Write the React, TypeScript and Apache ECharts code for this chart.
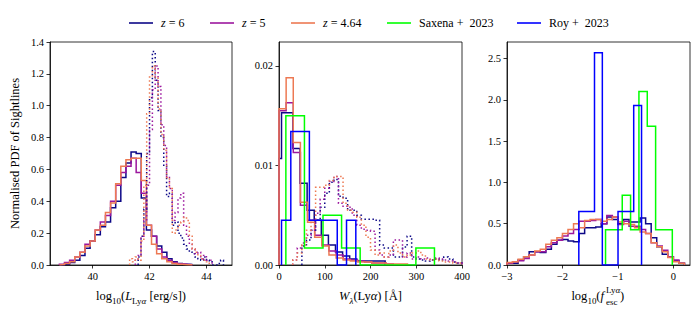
import React, { useEffect, useRef } from "react";
import * as echarts from "echarts";

const SERIF = "'Liberation Serif', 'DejaVu Serif', serif";
const COLOR_Z6 = "#0d0887";
const COLOR_Z5 = "#9c179e";
const COLOR_Z464 = "#ed7953";
const COLOR_SAX = "#00ff00";
const COLOR_ROY = "#0000ff";

const LEGEND_NAMES = ["z = 6", "z = 5", "z = 4.64", "Saxena +  2023", "Roy +  2023"];

// ---------- Panel 1: log10 L_Lya ----------
const LUM_BIN_START = 38.83;
const LUM_BIN_WIDTH = 0.18;
const LUM_Z6 = [0.0, 0.005, 0.015, 0.03, 0.06, 0.105, 0.15, 0.19, 0.24, 0.27, 0.36, 0.4, 0.55, 0.64, 0.71, 0.7, 0.42, 0.22, 0.18, 0.12, 0.08, 0.04, 0.02, 0.01, 0.005, 0.003];
const LUM_Z5 = [0.005, 0.015, 0.03, 0.05, 0.08, 0.13, 0.15, 0.22, 0.27, 0.31, 0.4, 0.5, 0.58, 0.62, 0.67, 0.58, 0.45, 0.25, 0.18, 0.1, 0.05, 0.03, 0.015, 0.008, 0.004, 0.002];
const LUM_Z464 = [0.003, 0.01, 0.02, 0.05, 0.08, 0.12, 0.15, 0.22, 0.25, 0.33, 0.39, 0.51, 0.62, 0.66, 0.67, 0.67, 0.53, 0.25, 0.13, 0.07, 0.04, 0.02, 0.01, 0.005, 0.002, 0.001];

const LUMOBS_BIN_WIDTH = 0.1;
const LUMOBS_Z6_START = 41.6;
const LUMOBS_Z6 = [0.05, 0.18, 0.35, 0.7, 1.05, 1.34, 1.16, 0.97, 0.8, 0.62, 0.43, 0.45, 0.25, 0.27, 0.2, 0.17, 0.13, 0.1, 0.08, 0.07, 0.05, 0.04, 0.03, 0.05, 0.03, 0.02, 0.0, 0.0, 0.01, 0.03];
const LUMOBS_Z5_START = 41.5;
const LUMOBS_Z5 = [0.03, 0.06, 0.18, 0.28, 0.5, 0.85, 1.1, 1.25, 1.12, 0.88, 0.75, 0.55, 0.48, 0.28, 0.33, 0.42, 0.45, 0.25, 0.18, 0.13, 0.1, 0.07, 0.08, 0.04, 0.06, 0.03, 0.03];
const LUMOBS_Z464_START = 41.3;
const LUMOBS_Z464 = [0.04, 0.02, 0.05, 0.03, 0.15, 0.5, 0.95, 1.18, 1.25, 1.18, 0.98, 0.82, 0.72, 0.55, 0.48, 0.2, 0.22, 0.25, 0.27, 0.3, 0.28, 0.18, 0.1, 0.08, 0.06, 0.04, 0.03, 0.02];

// ---------- Panel 2: W_lambda(Lya) ----------
const EW_BIN_WIDTH = 15.6;
const EW_Z5 = [0.0155, 0.0163, 0.0113, 0.006, 0.0045, 0.003, 0.002, 0.0014, 0.001, 0.0006, 0.0005, 0.0004, 0.0003, 0.0002, 0.0002, 0.0001];
const EW_Z464 = [0.0157, 0.0188, 0.0123, 0.0063, 0.0043, 0.0028, 0.0019, 0.001, 0.0007, 0.0005, 0.0004, 0.0003, 0.0003, 0.0002, 0.0002, 0.0001, 0.0001, 0.0001];
const EW_Z6_EDGES = [0, 5.5, 30.5, 46, 61.5, 77, 92.5, 108, 123.5, 139, 154.5, 170, 185.5, 201, 216.5, 232];
const EW_Z6 = [0.0107, 0.0153, 0.0117, 0.0082, 0.0055, 0.0045, 0.003, 0.002, 0.0013, 0.0009, 0.0006, 0.0004, 0.0004, 0.0004, 0.0004];

const EWOBS_BIN_WIDTH = 10;
const EWOBS_Z6_START = 50;
const EWOBS_Z6 = [0.0019, 0.0025, 0.0035, 0.0045, 0.0058, 0.0072, 0.0083, 0.0086, 0.0069, 0.0067, 0.0055, 0.0055, 0.005, 0.0046, 0.0046, 0.0046, 0.0045, 0.002, 0.0017, 0.0017, 0.0008, 0.0008, 0.0018, 0.0029, 0.0008, 0.0006, 0.0005, 0.0004, 0.0005, 0.0006, 0.0005, 0.0008, 0.0006, 0.0003, 0.0002];
const EWOBS_Z5_START = 30;
const EWOBS_Z5 = [0.0005, 0.0017, 0.0022, 0.003, 0.0035, 0.0052, 0.0066, 0.0077, 0.0084, 0.0089, 0.0062, 0.0059, 0.0058, 0.005, 0.004, 0.0036, 0.0035, 0.0034, 0.0015, 0.001, 0.0008, 0.001, 0.0025, 0.0025, 0.0008, 0.0012, 0.0006, 0.0008, 0.0006, 0.0007, 0.0005, 0.0007, 0.0006, 0.0005, 0.0004, 0.0003, 0.0002];
const EWOBS_Z464_START = 30;
const EWOBS_Z464 = [0.0005, 0.0012, 0.002, 0.0035, 0.0045, 0.0078, 0.0078, 0.008, 0.0085, 0.0089, 0.0089, 0.0062, 0.0055, 0.0053, 0.0048, 0.004, 0.0028, 0.0015, 0.001, 0.0012, 0.0008, 0.0014, 0.002, 0.0012, 0.0008, 0.001, 0.0012, 0.0014, 0.001, 0.0006, 0.0005, 0.0006, 0.0004, 0.0003, 0.0003, 0.0002, 0.0002];

const EW_SAX_START = 15;
const EW_SAX_WIDTH = 40.6;
const EW_SAX = [0.015, 0.0017, 0.005, 0.0017, 0, 0, 0, 0.0017];
const EW_ROY_START = 5.5;
const EW_ROY_WIDTH = 20.3;
const EW_ROY = [0.0045, 0.0134, 0.0134, 0.0045, 0.0045, 0.0045, 0, 0.0045];

// ---------- Panel 3: log10 f_esc ----------
const FESC_BIN_START = -3.0;
const FESC_BIN_WIDTH = 0.1;
const FESC_Z6 = [0.02, 0.02, 0.06, 0.1, 0.16, 0.16, 0.15, 0.19, 0.25, 0.3, 0.31, 0.29, 0.28, 0.38, 0.45, 0.45, 0.46, 0.5, 0.58, 0.55, 0.5, 0.55, 0.52, 0.52, 0.57, 0.5, 0.33, 0.22, 0.13, 0.1, 0.05, 0.02];
const FESC_Z5 = [0.02, 0.04, 0.05, 0.08, 0.12, 0.16, 0.16, 0.22, 0.27, 0.3, 0.35, 0.38, 0.43, 0.53, 0.53, 0.54, 0.55, 0.5, 0.6, 0.58, 0.49, 0.53, 0.47, 0.47, 0.43, 0.38, 0.27, 0.23, 0.18, 0.1, 0.06, 0.02];
const FESC_Z464 = [0.03, 0.04, 0.07, 0.1, 0.12, 0.17, 0.19, 0.25, 0.3, 0.33, 0.38, 0.43, 0.5, 0.45, 0.54, 0.55, 0.55, 0.53, 0.55, 0.58, 0.52, 0.5, 0.49, 0.45, 0.4, 0.38, 0.27, 0.22, 0.16, 0.09, 0.04, 0.02];
const FESC_SAX_START = -1.223;
const FESC_SAX_WIDTH = 0.1505;
const FESC_SAX = [0.427, 0.427, 0.845, 0.427, 2.1, 1.68, 0.427, 0.427];
const FESC_ROY_START = -1.705;
const FESC_ROY_WIDTH = 0.1414;
const FESC_ROY = [0.648, 0.648, 2.57, 0, 0, 0.648, 0.648, 1.93];

// ---------- Axis ticks ----------
const LUM_XTICKS = [40, 42, 44];
const LUM_YTICKS = [0, 0.2, 0.4, 0.6, 0.8, 1.0, 1.2, 1.4];
const EW_XTICKS = [0, 100, 200, 300, 400];
const EW_YTICKS = [0, 0.01, 0.02];
const FESC_XTICKS = [-3, -2, -1, 0];
const FESC_YTICKS = [0, 0.5, 1.0, 1.5, 2.0, 2.5];

function regularEdges(start: number, width: number, n: number): number[] {
  const e: number[] = [];
  for (let i = 0; i <= n; i++) e.push(+(start + i * width).toFixed(5));
  return e;
}

function outline(edges: number[], vals: number[]): number[][] {
  const pts: number[][] = [[edges[0], 0]];
  vals.forEach((v, i) => {
    pts.push([edges[i], v]);
    pts.push([edges[i + 1], v]);
  });
  pts.push([edges[vals.length], 0]);
  return pts;
}

function hist(start: number, width: number, vals: number[]) {
  return outline(regularEdges(start, width, vals.length), vals);
}

function series(name: string, color: string, data: number[][], idx: number, dotted = false, width = 1.5) {
  return {
    type: "line",
    name,
    xAxisIndex: idx,
    yAxisIndex: idx,
    data,
    symbol: "none",
    showSymbol: false,
    silent: true,
    clip: true,
    lineStyle: { color, width, type: dotted ? [1.5, 2.5] : "solid", join: "miter", cap: "butt" },
    itemStyle: { color },
  };
}

const RICH = {
  r: { fontFamily: SERIF, fontSize: 12.5, color: "#000", lineHeight: 18, verticalAlign: "middle" },
  i: { fontFamily: SERIF, fontStyle: "italic", fontSize: 12.5, color: "#000", lineHeight: 18, verticalAlign: "middle" },
  s: { fontFamily: SERIF, fontSize: 9, color: "#000", lineHeight: 9, verticalAlign: "bottom" },
  si: { fontFamily: SERIF, fontStyle: "italic", fontSize: 9, color: "#000", lineHeight: 9, verticalAlign: "bottom" },
};

const fmtMinus = (v: number) => (v < 0 ? "\u2212" + Math.abs(v) : String(v));

function xAxis(idx: number, min: number, max: number, ticks: number[], fmt: (v: number) => string, name?: string) {
  return {
    type: "value",
    gridIndex: idx,
    min,
    max,
    name: name || "",
    nameLocation: "middle",
    nameGap: 22,
    nameTextStyle: { rich: RICH, fontFamily: SERIF, fontSize: 12.5, color: "#000" },
    axisLine: { show: true, onZero: false, lineStyle: { color: "#000", width: 0.8 } },
    axisTick: { show: true, length: 3.5, customValues: ticks, lineStyle: { color: "#000", width: 0.8 } },
    axisLabel: { customValues: ticks, formatter: fmt, color: "#000", fontFamily: SERIF, fontSize: 10.5, margin: 6 },
    splitLine: { show: false },
  };
}

function yAxis(idx: number, min: number, max: number, ticks: number[], fmt: (v: number) => string, name?: string) {
  return {
    type: "value",
    gridIndex: idx,
    min,
    max,
    name: name || "",
    nameLocation: "middle",
    nameGap: 29,
    nameTextStyle: { fontFamily: SERIF, fontSize: 12.5, color: "#000" },
    axisLine: { show: true, onZero: false, lineStyle: { color: "#000", width: 0.8 } },
    axisTick: { show: true, length: 3.5, customValues: ticks, lineStyle: { color: "#000", width: 0.8 } },
    axisLabel: { customValues: ticks, formatter: fmt, color: "#000", fontFamily: SERIF, fontSize: 10.5, margin: 6 },
    splitLine: { show: false },
  };
}

function legendAt(name: string, left: number) {
  return {
    show: true,
    data: [name],
    left,
    top: 17,
    padding: 0,
    icon: "rect",
    itemWidth: 24,
    itemHeight: 1.6,
    selectedMode: false,
    formatter: (n: string) => (n.startsWith("z") ? "{i|z}" + n.slice(1) : n),
    textStyle: {
      fontFamily: SERIF,
      fontSize: 12,
      color: "#000",
      padding: [0, 0, 0, 3],
      rich: { i: { fontFamily: SERIF, fontStyle: "italic", fontSize: 12, color: "#000" } },
    },
  };
}

export default function App() {
  const ref = useRef<HTMLDivElement>(null);
  useEffect(() => {
    if (!ref.current) return;
    const chart = echarts.init(ref.current, null, { renderer: "svg" });
    const grids = [
      { left: 50, top: 42, width: 182, height: 223 },
      { left: 279, top: 42, width: 183, height: 223 },
      { left: 507, top: 42, width: 183, height: 223 },
    ].map((g) => ({ ...g, show: true, borderColor: "#000", borderWidth: 0.8, backgroundColor: "transparent" }));

    const option = {
      animation: false,
      backgroundColor: "#fff",
      grid: grids,
      legend: [
        legendAt(LEGEND_NAMES[0], 129),
        legendAt(LEGEND_NAMES[1], 210),
        legendAt(LEGEND_NAMES[2], 291),
        legendAt(LEGEND_NAMES[3], 387),
        legendAt(LEGEND_NAMES[4], 517),
      ],
      xAxis: [
        xAxis(0, 38.5, 44.9, LUM_XTICKS, (v) => String(v), "{r|log}{s|10}{r|(}{i|L}{s|Ly}{si|α}{r| [erg/s])}"),
        xAxis(1, 0, 400, EW_XTICKS, (v) => String(v), "{i|W}{si|λ}{r|(Ly}{i|α}{r|) [Å]}"),
        xAxis(2, -3, 0.3, FESC_XTICKS, fmtMinus),
      ],
      yAxis: [
        yAxis(0, 0, 1.4, LUM_YTICKS, (v) => v.toFixed(1), "Normalised PDF of Sightlines"),
        yAxis(1, 0, 0.0224, EW_YTICKS, (v) => v.toFixed(2)),
        yAxis(2, 0, 2.7, FESC_YTICKS, (v) => v.toFixed(1)),
      ],
      graphic: [
        {
          type: "text",
          x: 604,
          y: 296,
          style: { text: "{r|log}{s|10}{r|(}{i|f}", rich: RICH, align: "right", verticalAlign: "middle" },
        },
        {
          type: "text",
          x: 606,
          y: 290,
          style: { text: "Ly{ai|α}", fontFamily: SERIF, fontSize: 9, fill: "#000", align: "left", verticalAlign: "middle", rich: { ai: { fontFamily: SERIF, fontSize: 9, fontStyle: "italic", fill: "#000" } } },
        },
        {
          type: "text",
          x: 606,
          y: 302,
          style: { text: "esc", fontFamily: SERIF, fontSize: 9, fill: "#000", align: "left", verticalAlign: "middle" },
        },
        {
          type: "text",
          x: 620,
          y: 296,
          style: { text: ")", fontFamily: SERIF, fontSize: 12.5, fill: "#000", align: "left", verticalAlign: "middle" },
        },
      ],
      series: [
        series(LEGEND_NAMES[0], COLOR_Z6, hist(LUM_BIN_START, LUM_BIN_WIDTH, LUM_Z6), 0),
        series(LEGEND_NAMES[1], COLOR_Z5, hist(LUM_BIN_START, LUM_BIN_WIDTH, LUM_Z5), 0),
        series(LEGEND_NAMES[2], COLOR_Z464, hist(LUM_BIN_START, LUM_BIN_WIDTH, LUM_Z464), 0),
        series("obs z6 L", COLOR_Z6, hist(LUMOBS_Z6_START, LUMOBS_BIN_WIDTH, LUMOBS_Z6), 0, true),
        series("obs z5 L", COLOR_Z5, hist(LUMOBS_Z5_START, LUMOBS_BIN_WIDTH, LUMOBS_Z5), 0, true),
        series("obs z464 L", COLOR_Z464, hist(LUMOBS_Z464_START, LUMOBS_BIN_WIDTH, LUMOBS_Z464), 0, true),

        series(LEGEND_NAMES[0], COLOR_Z6, outline(EW_Z6_EDGES, EW_Z6), 1),
        series(LEGEND_NAMES[1], COLOR_Z5, hist(0, EW_BIN_WIDTH, EW_Z5), 1),
        series(LEGEND_NAMES[2], COLOR_Z464, hist(0, EW_BIN_WIDTH, EW_Z464), 1),
        series("obs z6 W", COLOR_Z6, hist(EWOBS_Z6_START, EWOBS_BIN_WIDTH, EWOBS_Z6), 1, true),
        series("obs z5 W", COLOR_Z5, hist(EWOBS_Z5_START, EWOBS_BIN_WIDTH, EWOBS_Z5), 1, true),
        series("obs z464 W", COLOR_Z464, hist(EWOBS_Z464_START, EWOBS_BIN_WIDTH, EWOBS_Z464), 1, true),
        series(LEGEND_NAMES[3], COLOR_SAX, hist(EW_SAX_START, EW_SAX_WIDTH, EW_SAX), 1),
        series(LEGEND_NAMES[4], COLOR_ROY, hist(EW_ROY_START, EW_ROY_WIDTH, EW_ROY), 1),

        series(LEGEND_NAMES[0], COLOR_Z6, hist(FESC_BIN_START, FESC_BIN_WIDTH, FESC_Z6), 2),
        series(LEGEND_NAMES[1], COLOR_Z5, hist(FESC_BIN_START, FESC_BIN_WIDTH, FESC_Z5), 2),
        series(LEGEND_NAMES[2], COLOR_Z464, hist(FESC_BIN_START, FESC_BIN_WIDTH, FESC_Z464), 2),
        series(LEGEND_NAMES[3], COLOR_SAX, hist(FESC_SAX_START, FESC_SAX_WIDTH, FESC_SAX), 2),
        series(LEGEND_NAMES[4], COLOR_ROY, hist(FESC_ROY_START, FESC_ROY_WIDTH, FESC_ROY), 2),
      ],
    };
    chart.setOption(option as any);
    return () => chart.dispose();
  }, []);
  return <div ref={ref} style={{ width: 700, height: 315, position: "absolute", left: 0, top: 0 }} />;
}
